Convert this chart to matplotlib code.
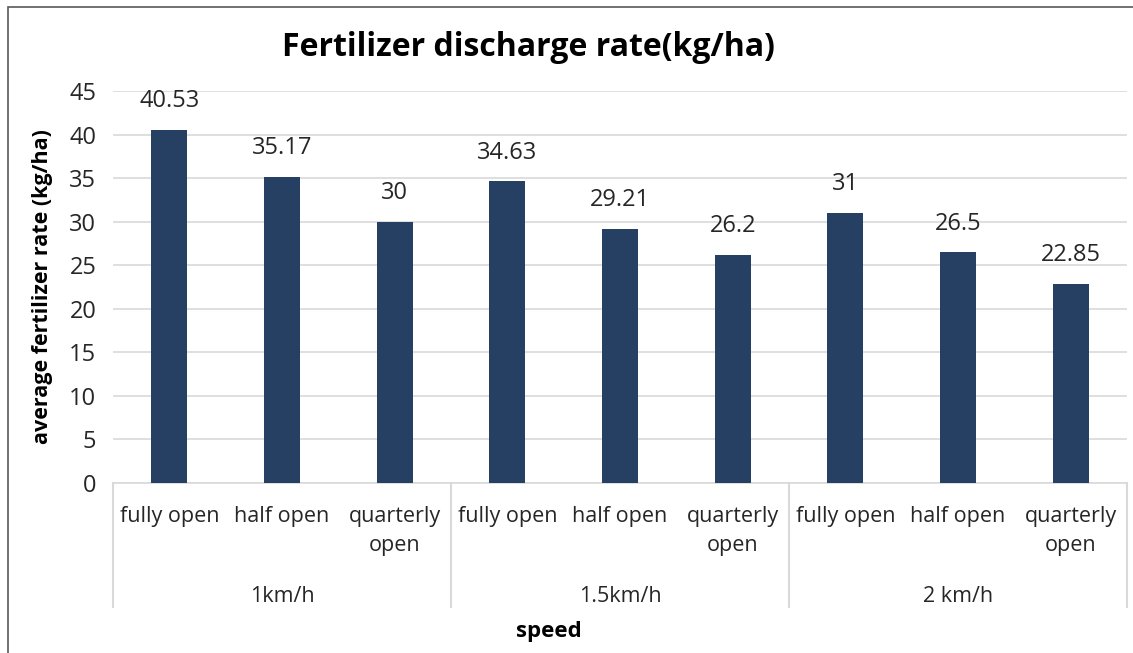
import matplotlib.pyplot as plt
import matplotlib.transforms as mtransforms
from matplotlib.patches import Rectangle

plt.rcParams['font.family'] = ['Open Sans', 'DejaVu Sans']

# data
speeds = ['1km/h', '1.5km/h', '2 km/h']
openings = ['fully open', 'half open', 'quarterly\nopen']
rates = [40.53, 35.17, 30, 34.63, 29.21, 26.2, 31, 26.5, 22.85]
rate_labels = ['40.53', '35.17', '30', '34.63', '29.21', '26.2', '31', '26.5', '22.85']

bar_color = '#264064'
text_color = '#262626'

fig = plt.figure(figsize=(11.33, 6.53), dpi=100)
fig.patches.append(Rectangle((0.007, -0.01), 1.2, 1 - 0.007 + 0.01 - 0.004,
                             transform=fig.transFigure, fill=False,
                             edgecolor='#595959', linewidth=1.2))

ax = fig.add_axes([0.0997, 0.2603, 0.895, 0.6003])
x = list(range(len(rates)))
ax.bar(x, rates, width=0.32, color=bar_color, zorder=3)

for xi, v, lab in zip(x, rates, rate_labels):
    ax.text(xi, v + 1.9, lab, ha='center', va='bottom', fontsize=17, color=text_color)

ax.set_xlim(-0.5, len(rates) - 0.5)
ax.set_ylim(0, 45)
ax.set_yticks(range(0, 50, 5))
ax.tick_params(axis='y', length=0, labelsize=17, labelcolor=text_color, pad=12)
ax.set_xticks([])
ax.yaxis.grid(True, color='#d9d9d9', linewidth=1.2, zorder=0)
for s in ['top', 'right', 'left']:
    ax.spines[s].set_visible(False)
ax.spines['bottom'].set_color('#d9d9d9')
ax.spines['bottom'].set_linewidth(1.2)

trans = mtransforms.blended_transform_factory(ax.transData, ax.transAxes)
for xi in x:
    ax.text(xi, -0.058, openings[xi % 3], ha='center', va='top', fontsize=15.5,
            color=text_color, transform=trans, linespacing=1.5)

for g, name in enumerate(speeds):
    ax.text(g * 3 + 1, -0.263, name, ha='center', va='top', fontsize=15.5,
            color=text_color, transform=trans)
for b in range(len(speeds) + 1):
    ax.plot([b * 3 - 0.5, b * 3 - 0.5], [0, -0.316], color='#d9d9d9',
            linewidth=1.5, transform=trans, clip_on=False)

fig.text(0.4846, 0.033, 'speed', ha='center', va='center', fontsize=16,
         fontweight='bold', color='black')
ax.set_ylabel('average fertilizer rate (kg/ha)', fontsize=15.5, fontweight='bold',
              color='black', labelpad=12)

fig.text(0.466, 0.928, 'Fertilizer discharge rate(kg/ha)', ha='center', va='center',
         fontsize=23, fontweight='bold', color='black')

fig.savefig('out.png', dpi=100)
